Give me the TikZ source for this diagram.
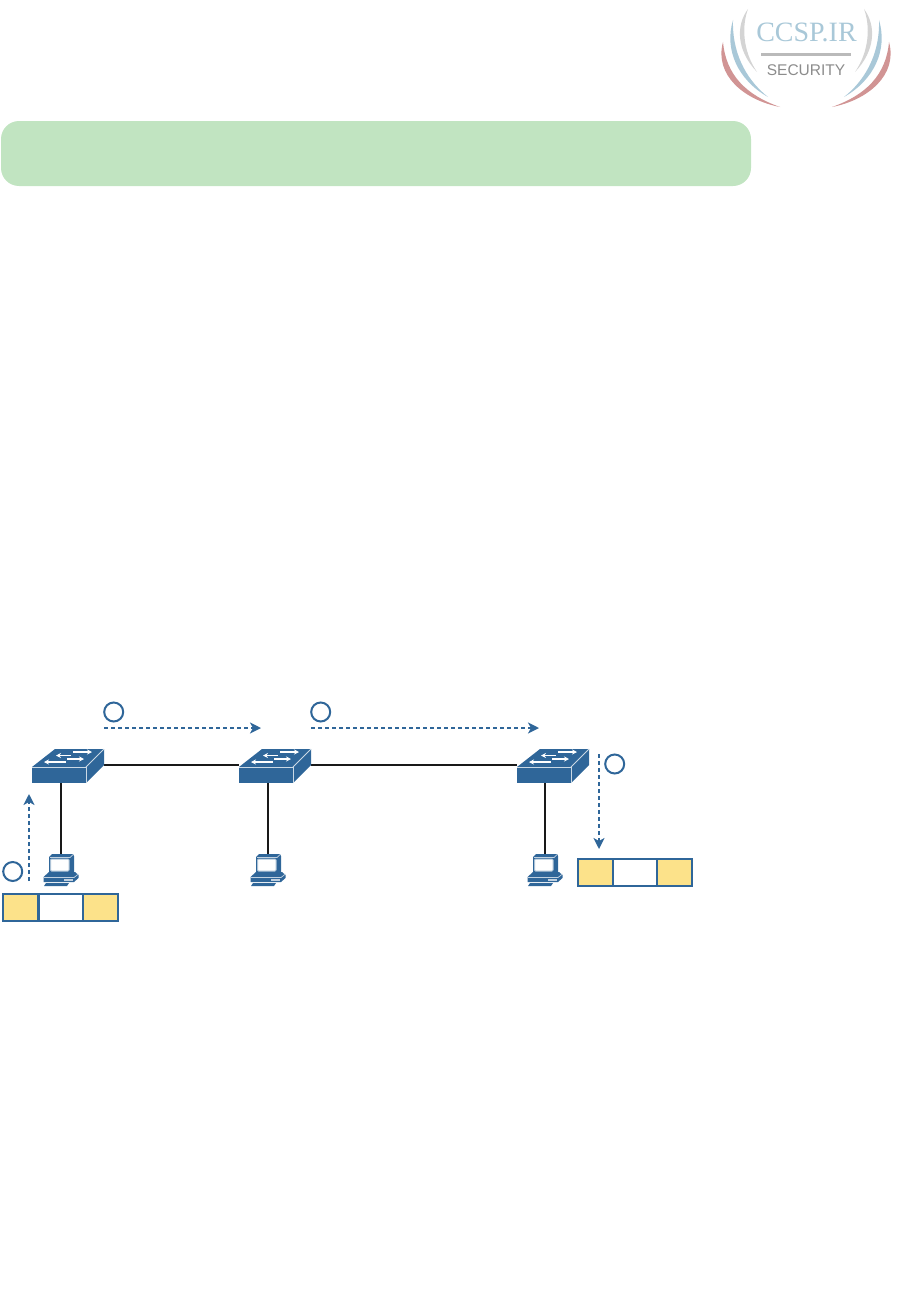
\documentclass[tikz,border=0pt]{standalone}
\usepackage{xcolor}
\usepackage{fontspec}
\usepackage{tikz}
\usetikzlibrary{arrows.meta, positioning}

\definecolor{netblue}{HTML}{2F6699}
\definecolor{paleblue}{HTML}{A9C8D8}
\definecolor{fieldyellow}{HTML}{FCE28A}
\definecolor{bannergreen}{HTML}{C1E4C1}
\newfontfamily\logoserif{Liberation Serif}
\newfontfamily\logosans{Liberation Sans}

\tikzset{
    switchicon/.pic={
        \fill[netblue] (-36,2) -- (18,2) -- (36,-16) -- (-13,-16) -- cycle;
        \fill[netblue] (18,2) -- (36,-16) -- (36,0) -- (18,18) -- cycle;
        \fill[netblue] (-36,2) rectangle (18,18);
        \draw[white!75!netblue, line width=0.8] (-36,2) -- (18,2) -- (18,18);
        \draw[white!75!netblue, line width=0.8] (18,2) -- (36,-16);
        \draw[white, line width=1.1, -{Stealth[length=5, width=5]}] (5,-13) -- (24,-13);
        \draw[white, line width=1.1, -{Stealth[length=5, width=5]}] (3,-9.5) -- (-12,-9.5);
        \draw[white, line width=1.1, -{Stealth[length=5, width=5]}] (-1,-6) -- (16,-6);
        \draw[white, line width=1.1, -{Stealth[length=5, width=5]}] (-2,-3) -- (-24,-3);
    },
    pcicon/.pic={
        \fill[netblue] (-9,-16) -- (12,-16) -- (13,-14) -- (13,3) -- (-12,3) -- (-12,-13) -- cycle;
        \draw[white!70!netblue, line width=0.7] (-11,-12.5) -- (9,-12.5) -- (12,-15.5);
        \fill[white, draw=white!60!netblue, line width=1, rounded corners=1] (-10.5,-11) rectangle (8,1);
        \fill[netblue] (-12,2) -- (14,2) -- (17.5,5) -- (17.5,8) -- (13,12) -- (-17.5,12) -- (-17.5,7) -- cycle;
        \draw[white!70!netblue, line width=0.7] (-17,7.5) -- (13,7.5) -- (17.5,4);
        \fill[white!70!netblue] (3,8.5) rectangle (12,11);
        \fill[netblue] (-15,13) -- (8,13) -- (6,16) -- (-17,16) -- cycle;
    },
    logoarcs/.pic={
        \fill[black!17] (-58,9) .. controls (-70,25) and (-70,50) .. (-49,72) .. controls (-64,50) and (-64,25) .. (-58,9) -- cycle;
        \fill[paleblue] (-73,20) .. controls (-82,50) and (-68,80) .. (-38,97) .. controls (-62,78) and (-74,50) .. (-73,20) -- cycle;
        \fill[red!40!gray!60] (-83,42) .. controls (-92,75) and (-62,100) .. (-26,107) .. controls (-60,95) and (-80,75) .. (-83,42) -- cycle;
    }
}

\begin{document}
\begin{tikzpicture}[
    x=1pt, y=-1pt,
    switchbox/.style={rectangle, minimum width=72, minimum height=36, inner sep=0, outer sep=0},
    pcbox/.style={rectangle, minimum width=35, minimum height=32, inner sep=0, outer sep=0},
    cell/.style={rectangle, draw=netblue, line width=2.2, minimum height=27, inner sep=0, outer sep=0},
    badge/.style={circle, draw=netblue, line width=2, minimum size=19, inner sep=0},
    flow/.style={draw=netblue, line width=2, dash pattern=on 4 off 3, -{Stealth[length=11, width=11, inset=3]}},
    link/.style={line width=2, draw=black!90}
]
    \useasboundingbox (0,0) rectangle (918,1314);

    % logo
    \pic at (806,0) {logoarcs};
    \pic[xscale=-1] at (806,0) {logoarcs};
    \node[inner sep=0, text=paleblue, font=\logoserif\fontsize{28}{28}\selectfont] (logotext) at (806.5,32) {CCSP.IR};
    \fill[black!27] (761,53.5) rectangle (851,56.5);
    \node[inner sep=0, text=black!45, font=\logosans\fontsize{15.5}{15.5}\selectfont] (logosub) at (806,70.5) {SECURITY};

    % banner
    \node[fill=bannergreen, rounded corners=18, minimum width=750, minimum height=65, inner sep=0, outer sep=0] (banner) at (376,153.5) {};

    % switches and hosts
    \node[switchbox] (swa) at (68,765) {};
    \node[switchbox] (swb) at (275,765) {};
    \node[switchbox] (swc) at (553,765) {};
    \node[pcbox] (pca) at (61,870) {};
    \node[pcbox] (pcb) at (268,870) {};
    \node[pcbox] (pcc) at (545,870) {};

    \draw[link] (swa.east) -- (swb.west);
    \draw[link] (swb.east) -- (swc.west);
    \draw[link] (swa.south -| pca.north) -- (pca.north);
    \draw[link] (swb.south -| pcb.north) -- (pcb.north);
    \draw[link] (swc.south -| pcc.north) -- (pcc.north);

    \pic at (swa) {switchicon};
    \pic at (swb) {switchicon};
    \pic at (swc) {switchicon};
    \pic at (pca) {pcicon};
    \pic at (pcb) {pcicon};
    \pic at (pcc) {pcicon};

    % frames
    \node[cell, fill=fieldyellow, minimum width=35.5] (srchead) at (20.75,907.5) {};
    \node[cell, fill=white, minimum width=44.5, right=0pt of srchead] (srcdata) {};
    \node[cell, fill=fieldyellow, minimum width=35, right=0pt of srcdata] (srctail) {};
    \node[cell, fill=fieldyellow, minimum width=35] (dsthead) at (595.5,872.5) {};
    \node[cell, fill=white, minimum width=44, right=0pt of dsthead] (dstdata) {};
    \node[cell, fill=fieldyellow, minimum width=35, right=0pt of dstdata] (dsttail) {};

    % numbered steps
    \node[badge] (stepa) at (12.7,871.5) {};
    \node[badge] (stepb) at (113.7,712) {};
    \node[badge] (stepc) at (320.7,712) {};
    \node[badge] (stepd) at (614.7,764) {};

    \coordinate (fa1) at (29,881);
    \coordinate (fa2) at (29,794);
    \coordinate (fb1) at (104,728);
    \coordinate (fb2) at (261,728);
    \coordinate (fc1) at (311,728);
    \coordinate (fc2) at (539,728);
    \coordinate (fd1) at (599,754);
    \coordinate (fd2) at (599,849);

    \draw[flow] (fa1) -- (fa2);
    \draw[flow] (fb1) -- (fb2);
    \draw[flow] (fc1) -- (fc2);
    \draw[flow] (fd1) -- (fd2);
\end{tikzpicture}
\end{document}
